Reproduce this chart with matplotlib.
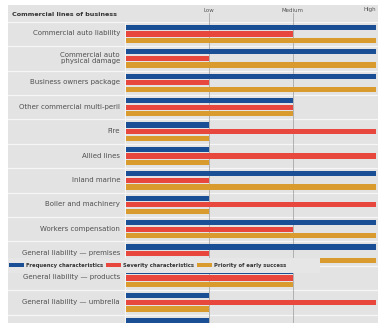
import matplotlib.pyplot as plt
from matplotlib.patches import Patch, Rectangle
import numpy as np

# lines of business and their ratings (0 = none, 1 = Low, 2 = Medium, 3 = High)
lines = [
    'Commercial auto liability',
    'Commercial auto\nphysical damage',
    'Business owners package',
    'Other commercial multi-peril',
    'Fire',
    'Allied lines',
    'Inland marine',
    'Boiler and machinery',
    'Workers compensation',
    'General liability — premises',
    'General liability — products',
    'General liability — umbrella',
    '',
]
frequency = [3, 3, 3, 2, 1, 1, 3, 1, 3, 3, 2, 1, 1]
severity = [2, 1, 1, 2, 3, 3, 1, 3, 2, 1, 2, 3, np.nan]
priority = [3, 3, 3, 2, 1, 1, 3, 1, 3, 3, 2, 1, np.nan]
levels = ['Low', 'Medium', 'High']
series_names = ['Frequency characteristics', 'Severity characteristics', 'Priority of early success']

BLUE = '#1b4f95'
RED = '#e8473d'
ORANGE = '#d99a2e'
PANEL = '#e3e3e3'

W, H = 378, 323
fig = plt.figure(figsize=(W / 100, H / 100), dpi=100)
fig.patch.set_facecolor('white')

# background layer in pixel units
bg = fig.add_axes([0, 0, 1, 1])
bg.set_xlim(0, W)
bg.set_ylim(H, 0)
bg.axis('off')
bg.add_patch(Rectangle((8, 5), W - 8, H - 5, color=PANEL, lw=0))

row_h = 24.4
first = 34.0
centers = first + row_h * np.arange(len(lines))

bg.text(12, 15, 'Commercial lines of business', fontsize=4.6, fontweight='bold',
        color='#333333', va='center', ha='left')
bg.plot([8, W], [first - row_h / 2] * 2, color='#f6f6f6', lw=0.9)
for c, name in zip(centers, lines):
    bg.text(120, c - 0.5, name, fontsize=5.0, color='#505050', ha='right', va='center',
            linespacing=0.95)
    bg.plot([8, W], [c + row_h / 2] * 2, color='#f6f6f6', lw=0.9)
bg.plot([125, 125], [first - row_h / 2, H], color='#f6f6f6', lw=0.8)

# bar layer
ax = fig.add_axes([126 / W, 0, 250 / W, 1])
ax.set_xlim(0, 3)
ax.set_ylim(H, 0)
ax.patch.set_alpha(0)
ax.axis('off')

for k in range(1, 4):
    ax.plot([k, k], [13, H], color='#a8a8a8', lw=0.6, zorder=1)
for k, lab in enumerate(levels, start=1):
    ax.text(k if k < 3 else k + 0.005, 10, lab, fontsize=4.0, color='#555555',
            ha='center' if k < 3 else 'right', va='center')

pitch = 6.6
bh = 5.2
ax.barh(centers - pitch, frequency, height=bh, color=BLUE, zorder=2)
ax.barh(centers, severity, height=bh, color=RED, zorder=2)
ax.barh(centers + pitch, priority, height=bh, color=ORANGE, zorder=2)

# legend sits on a plain box laid over the premises/products rows
fig.patches.append(Rectangle((8 / W, 1 - 273 / H), 312 / W, 15 / H,
                             transform=fig.transFigure, facecolor='#e6e6e6',
                             edgecolor='none', zorder=4))
handles = [Patch(facecolor=c, edgecolor='none') for c in (BLUE, RED, ORANGE)]
leg = fig.legend(handles, series_names, ncol=3, loc='center left',
                 bbox_to_anchor=(9 / W, 1 - 265 / H),
                 prop={'weight': 'bold', 'size': 3.8},
                 frameon=False, handlelength=2.9, handleheight=0.75,
                 handletextpad=0.35, columnspacing=0.5, borderpad=0,
                 borderaxespad=0)
for t in leg.get_texts():
    t.set_color('#333333')

fig.savefig('out.png', dpi=100)
